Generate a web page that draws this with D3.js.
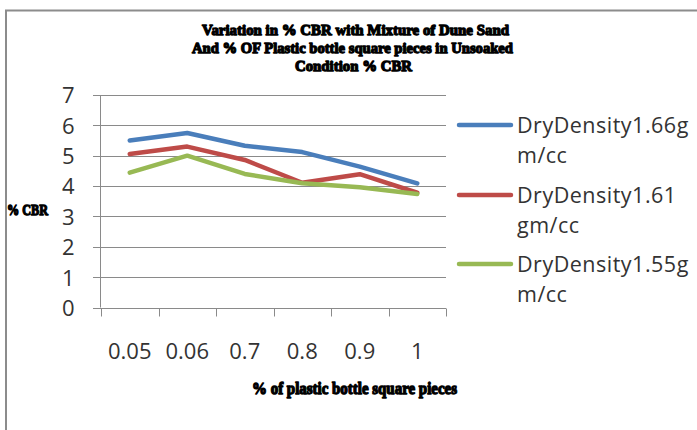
<!DOCTYPE html>
<html>
<head>
<meta charset="utf-8">
<script src="https://cdn.jsdelivr.net/npm/d3@7"></script>
<style>
  html, body { margin: 0; padding: 0; background: #fff; }
  svg { display: block; }
</style>
</head>
<body>
<svg id="chart" width="697" height="430"></svg>
<script>
// ---- data ----
const categories = ["0.05", "0.06", "0.7", "0.8", "0.9", "1"];
const seriesNames = [
  ["DryDensity1.66g", "m/cc"],
  ["DryDensity1.61", "gm/cc"],
  ["DryDensity1.55g", "m/cc"]
];
const density166 = [5.5, 5.75, 5.33, 5.12, 4.64, 4.09];
const density161 = [5.06, 5.3, 4.86, 4.11, 4.39, 3.78];
const density155 = [4.44, 5.0, 4.4, 4.09, 3.96, 3.74];
const yTicks = [0, 1, 2, 3, 4, 5, 6, 7];
const titleLines = [
  "Variation in % CBR with Mixture of Dune Sand",
  "And % OF Plastic bottle square pieces in Unsoaked",
  "Condition % CBR"
];
const xTitle = "% of plastic bottle square pieces";
const yTitle = "% CBR";
const colors = ["#4a7ebb", "#be4b48", "#98b954"];

const allSeries = [density166, density161, density155];

const svg = d3.select("#chart");

// frame
svg.append("rect")
  .attr("x", 6).attr("y", 10.5)
  .attr("width", 700).attr("height", 430)
  .attr("fill", "none").attr("stroke", "#8c8c8c").attr("stroke-width", 2);

// scales
const x = d3.scaleBand().domain(categories).range([101, 446]).padding(0);
const y = d3.scaleLinear().domain([0, 7]).range([307.5, 95]);

const gridColor = "#8a8a8a";
const textFont = "'Open Sans', 'Noto Sans', sans-serif";

// gridlines
svg.append("g").selectAll("line").data(yTicks).join("line")
  .attr("x1", 93).attr("x2", 446)
  .attr("y1", d => Math.round(y(d)) + 0.5).attr("y2", d => Math.round(y(d)) + 0.5)
  .attr("stroke", gridColor).attr("stroke-width", 1);

// y axis
const yAxis = svg.append("g").attr("transform", "translate(100.5,0)")
  .call(d3.axisLeft(y).tickValues(yTicks).tickSize(0).tickPadding(26).tickFormat(d3.format("d")));
yAxis.select(".domain").attr("stroke", gridColor).attr("d", `M0,${y(7)}V${y(0)}`);
yAxis.selectAll("text")
  .attr("font-family", textFont).attr("font-size", 22).attr("fill", "#333")
  .attr("dy", "0.36em");

// x axis
const xAxis = svg.append("g").attr("transform", `translate(0,${Math.round(y(0)) + 0.5})`)
  .call(d3.axisBottom(x).tickSize(0).tickPadding(35));
xAxis.select(".domain").attr("stroke", gridColor).attr("d", "M100.5,0H446");
xAxis.selectAll("text")
  .attr("font-family", textFont).attr("font-size", 22).attr("fill", "#333");
// category boundary ticks
const bounds = categories.map(c => x(c)).concat([x(categories[categories.length - 1]) + x.bandwidth()]);
xAxis.append("g").selectAll("line").data(bounds).join("line")
  .attr("x1", d => Math.round(d) + 0.5).attr("x2", d => Math.round(d) + 0.5)
  .attr("y1", 0).attr("y2", 8)
  .attr("stroke", gridColor).attr("stroke-width", 1);

// lines
const line = d3.line()
  .x((d, i) => x(categories[i]) + x.bandwidth() / 2)
  .y(d => y(d));
svg.append("g").selectAll("path").data(allSeries).join("path")
  .attr("d", d => line(d))
  .attr("fill", "none")
  .attr("stroke", (d, i) => colors[i])
  .attr("stroke-width", 4.5)
  .attr("stroke-linejoin", "round")
  .attr("stroke-linecap", "round");

// titles (heavy condensed serif)
const titleFont = "'Liberation Serif', 'DejaVu Serif', serif";
const titleSpecs = [
  { x: 202, yb: 35, w: 307 },
  { x: 192, yb: 53, w: 321 },
  { x: 295, yb: 71, w: 117 }
];
function heavy(sel, size) {
  sel.attr("lengthAdjust", "spacingAndGlyphs")
    .attr("font-family", titleFont).attr("font-weight", "bold").attr("font-size", size)
    .attr("fill", "#000").attr("stroke", "#000").attr("stroke-width", 1.3)
    .attr("stroke-linejoin", "round");
}
svg.append("g").selectAll("text").data(titleLines).join("text")
  .attr("x", (d, i) => titleSpecs[i].x)
  .attr("y", (d, i) => titleSpecs[i].yb)
  .attr("textLength", (d, i) => titleSpecs[i].w)
  .call(heavy, 15.5)
  .text(d => d);

svg.append("text")
  .attr("x", 252).attr("y", 394)
  .attr("textLength", 205)
  .call(heavy, 16.5)
  .text(xTitle);

svg.append("text")
  .attr("x", 7).attr("y", 215)
  .attr("textLength", 41)
  .call(heavy, 15)
  .text(yTitle);

// legend
const legendY = [125, 195, 264];
const leg = svg.append("g").selectAll("g").data(seriesNames).join("g")
  .attr("transform", (d, i) => `translate(0,${legendY[i]})`);
leg.append("line")
  .attr("x1", 459).attr("x2", 511).attr("y1", 0).attr("y2", 0)
  .attr("stroke", (d, i) => colors[i]).attr("stroke-width", 4.5)
  .attr("stroke-linecap", "round");
leg.append("text")
  .attr("x", 517).attr("y", 7.5)
  .attr("font-family", textFont).attr("font-size", 21.5).attr("letter-spacing", 0.5)
  .attr("fill", "#333")
  .text(d => d[0]);
leg.append("text")
  .attr("x", 517).attr("y", 38)
  .attr("font-family", textFont).attr("font-size", 21.5).attr("letter-spacing", 0.5)
  .attr("fill", "#333")
  .text(d => d[1]);
</script>
</body>
</html>
